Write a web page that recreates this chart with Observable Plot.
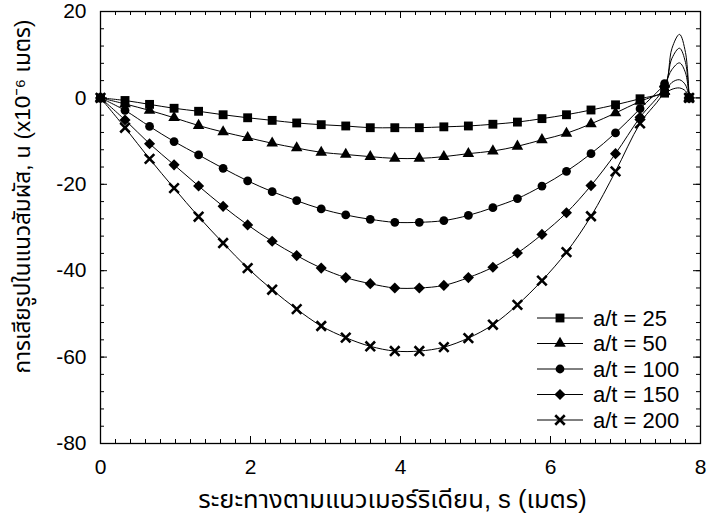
<!DOCTYPE html>
<html>
<head>
<meta charset="utf-8">
<script src="https://cdn.jsdelivr.net/npm/d3@7"></script>
<script src="https://cdn.jsdelivr.net/npm/@observablehq/plot@0.6"></script>
<style>
  html, body { margin: 0; padding: 0; background: #fff; }
  #chart { width: 708px; height: 516px; }
</style>
</head>
<body>
<div id="chart"></div>
<script>
// ---- data ----
const s = [0, 0.327, 0.654, 0.981, 1.308, 1.635, 1.962, 2.289, 2.616, 2.943, 3.27, 3.597,
           3.924, 4.251, 4.578, 4.905, 5.232, 5.559, 5.886, 6.213, 6.54, 6.867, 7.194, 7.521, 7.848];
const u25  = [0, -0.6, -1.5, -2.4, -3.1, -3.9, -4.6, -5.2, -5.8, -6.2, -6.5, -6.9,
              -6.9, -6.9, -6.7, -6.5, -6.1, -5.6, -4.8, -3.9, -2.8, -1.6, -0.2, 1.1, 0];
const u50  = [0, -1.4, -2.9, -4.6, -6.4, -7.9, -9.2, -10.5, -11.6, -12.6, -13.1, -13.6,
              -14.0, -14.0, -13.6, -12.9, -12.3, -11.2, -9.7, -8.2, -6.0, -3.5, -0.8, 1.5, 0];
const u100 = [0, -2.9, -6.6, -10.1, -13.2, -16.3, -19.2, -21.7, -23.8, -25.7, -27.1, -28.1,
              -28.8, -28.8, -28.4, -27.2, -25.4, -23.3, -20.4, -17.0, -12.9, -8.1, -2.5, 3.3, 0];
const u150 = [0, -5.1, -10.6, -15.5, -20.4, -25.1, -29.4, -33.2, -36.5, -39.4, -41.6, -43.0,
              -44.0, -44.0, -43.4, -41.6, -39.2, -35.9, -31.6, -26.6, -20.3, -12.9, -4.5, 2.5, 0];
const u200 = [0, -6.9, -14.1, -20.9, -27.5, -33.6, -39.4, -44.4, -48.9, -52.8, -55.5, -57.5,
              -58.6, -58.6, -57.7, -55.6, -52.5, -47.9, -42.3, -35.7, -27.4, -17.0, -5.9, 1.8, 0];
// line-only points of the end bump (between the last two markers)
const sBump = [7.62, 7.72, 7.80];
const bump25  = [2.0, 2.3, 1.6];
const bump50  = [3.6, 4.2, 3.0];
const bump100 = [6.6, 8.1, 5.8];
const bump150 = [9.2, 11.5, 8.2];
const bump200 = [11.5, 14.7, 10.5];
const seriesLabels = ["a/t = 25", "a/t = 50", "a/t = 100", "a/t = 150", "a/t = 200"];
const xTicks = [0, 2, 4, 6, 8];
const yTicks = [-80, -60, -40, -20, 0, 20];
const xTitle = "ระยะทางตามแนวเมอร์ริเดียน, s (เมตร)";
const yTitle = "การเสียรูปในแนวสัมผัส, u (x10⁻⁶ เมตร)";

// ---- styles ----
const symbols = ["square", "triangle", "circle", "diamond2", "times"];
const d3symbols = [d3.symbolSquare, d3.symbolTriangle, d3.symbolCircle, d3.symbolDiamond2, d3.symbolTimes];
const radii = [5, 4.3, 4.4, 5, 4.4];
const strokeSymbol = [false, false, false, false, true];

const values = [u25, u50, u100, u150, u200];
const bumps = [bump25, bump50, bump100, bump150, bump200];

const markers = seriesLabels.map((k, j) => s.map((x, i) => ({s: x, u: values[j][i], key: k})));
const lines = seriesLabels.flatMap((k, j) =>
  markers[j].concat(sBump.map((x, i) => ({s: x, u: bumps[j][i], key: k})))
    .sort((a, b) => a.s - b.s));

const xMinor = d3.range(0, 8.001, 0.2);
const yMinor = d3.range(-80, 20.001, 4);

const W = 708, H = 516, mL = 100, mR = 8, mT = 11, mB = 73;
const fw = W - mL - mR, fh = H - mT - mB;
const font = "'Liberation Sans', Arial, Helvetica, 'Noto Sans Thai', 'Noto Sans', 'DejaVu Sans', sans-serif";

const tickMarks = [
  Plot.ruleX(xMinor, {x: d => d, insetTop: fh - 4, stroke: "black"}),
  Plot.ruleX(xMinor, {x: d => d, insetBottom: fh - 4, stroke: "black"}),
  Plot.ruleX(xTicks, {x: d => d, insetTop: fh - 7, stroke: "black"}),
  Plot.ruleX(xTicks, {x: d => d, insetBottom: fh - 7, stroke: "black"}),
  Plot.ruleY(yMinor, {y: d => d, insetRight: fw - 4, stroke: "black"}),
  Plot.ruleY(yMinor, {y: d => d, insetLeft: fw - 4, stroke: "black"}),
  Plot.ruleY(yTicks, {y: d => d, insetRight: fw - 7, stroke: "black"}),
  Plot.ruleY(yTicks, {y: d => d, insetLeft: fw - 7, stroke: "black"})
];

const dotMarks = seriesLabels.map((k, j) => Plot.dot(markers[j], strokeSymbol[j]
  ? {x: "s", y: "u", symbol: symbols[j], r: radii[j], stroke: "black", strokeWidth: 2.6, fill: "none"}
  : {x: "s", y: "u", symbol: symbols[j], r: radii[j], fill: "black", stroke: "none"}));

const chart = Plot.plot({
  width: W, height: H,
  marginLeft: mL, marginRight: mR, marginTop: mT, marginBottom: mB,
  style: {fontFamily: font, fontSize: "21px", color: "black", background: "white"},
  x: {domain: [0, 8], ticks: xTicks, tickSize: 0, tickPadding: 16, label: null, tickFormat: d => String(d)},
  y: {domain: [-80, 20], ticks: yTicks, tickSize: 0, tickPadding: 14, label: null, tickFormat: d => String(d)},
  marks: [
    ...tickMarks,
    Plot.line(lines, {x: "s", y: "u", z: "key", curve: "catmull-rom", stroke: "black", strokeWidth: 1}),
    ...dotMarks,
    Plot.frame({stroke: "black", strokeWidth: 1.3}),
    Plot.text([xTitle], {frameAnchor: "bottom", dy: 56, dx: -8, fontSize: 25.5, textAnchor: "middle", lineAnchor: "middle", fill: "black"}),
    Plot.text([yTitle], {frameAnchor: "left", dx: -78, dy: -31, rotate: -90, fontSize: 22.5, textAnchor: "middle", lineAnchor: "middle", fill: "black"})
  ]
});
document.getElementById("chart").appendChild(chart);

// ---- legend (inside the frame, lower right) ----
const svg = d3.select(chart);
const lg = svg.append("g").attr("transform", "translate(537,318)");
seriesLabels.forEach((k, j) => {
  const row = lg.append("g").attr("transform", `translate(0,${j * 25.5})`);
  row.append("line").attr("x1", 0).attr("x2", 46).attr("y1", 0).attr("y2", 0)
    .attr("stroke", "black").attr("stroke-width", 1);
  const p = row.append("path")
    .attr("transform", "translate(23,0)")
    .attr("d", d3.symbol(d3symbols[j], Math.PI * radii[j] * radii[j])());
  if (strokeSymbol[j]) p.attr("fill", "none").attr("stroke", "black").attr("stroke-width", 2.6);
  else p.attr("fill", "black");
  row.append("text").attr("x", 56).attr("y", 0).attr("dy", "0.35em")
    .attr("text-anchor", "start")
    .attr("font-family", font).attr("font-size", 22).attr("fill", "black").text(k);
});
</script>
</body>
</html>
